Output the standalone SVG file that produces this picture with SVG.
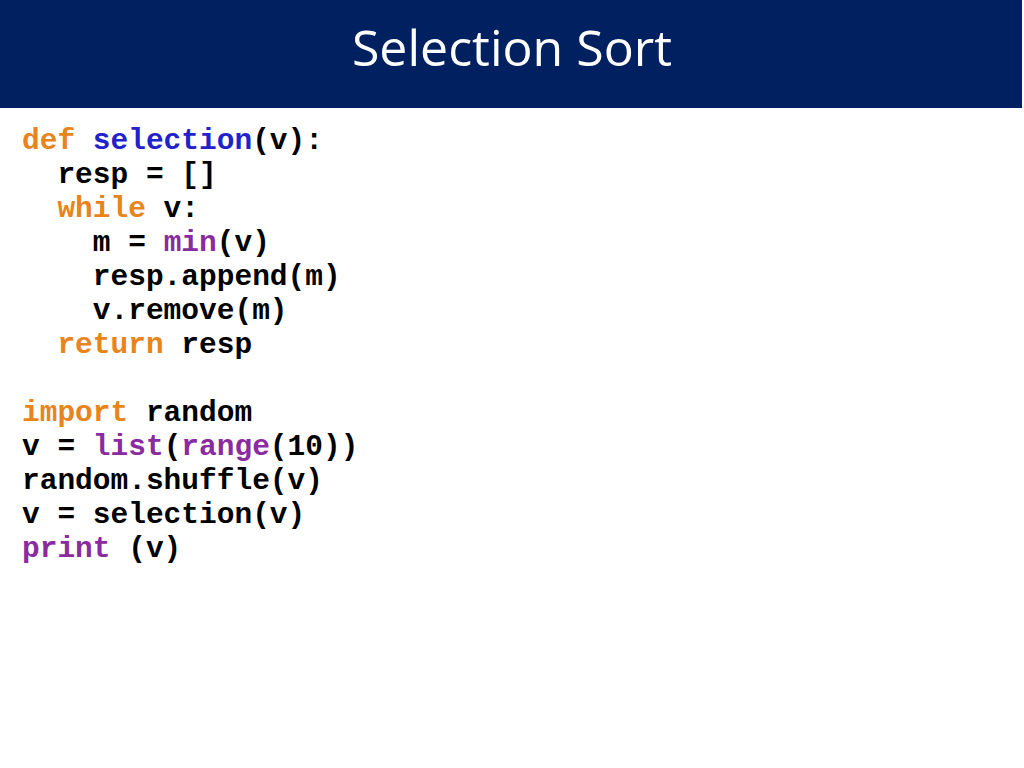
<svg xmlns="http://www.w3.org/2000/svg" width="1024" height="768" viewBox="0 0 1024 768">
<style>
.c{font-family:"Liberation Mono",monospace;font-weight:bold;font-size:29.5px;fill:#000;white-space:pre}
.k{fill:#E8841C}.f{fill:#2222CC}.b{fill:#8A2BA0}
</style>
<rect x="0" y="0" width="1024" height="768" fill="#fff"/>
<rect x="0" y="0" width="1022" height="108" fill="#002060"/>
<text x="512" y="66" text-anchor="middle" font-family="Open Sans, Liberation Sans, sans-serif" font-size="50" fill="#fff">Selection Sort</text>
<g id="code" xml:space="preserve">
<text class="c" x="22" y="149"><tspan class="k">def</tspan> <tspan class="f">selection</tspan>(v):</text>
<text class="c" x="22" y="183">  resp = []</text>
<text class="c" x="22" y="217">  <tspan class="k">while</tspan> v:</text>
<text class="c" x="22" y="251">    m = <tspan class="b">min</tspan>(v)</text>
<text class="c" x="22" y="285">    resp.append(m)</text>
<text class="c" x="22" y="319">    v.remove(m)</text>
<text class="c" x="22" y="353">  <tspan class="k">return</tspan> resp</text>
<text class="c" x="22" y="421"><tspan class="k">import</tspan> random</text>
<text class="c" x="22" y="455">v = <tspan class="b">list</tspan>(<tspan class="b">range</tspan>(10))</text>
<text class="c" x="22" y="489">random.shuffle(v)</text>
<text class="c" x="22" y="523">v = selection(v)</text>
<text class="c" x="22" y="557"><tspan class="b">print</tspan> (v)</text>
</g>
</svg>
